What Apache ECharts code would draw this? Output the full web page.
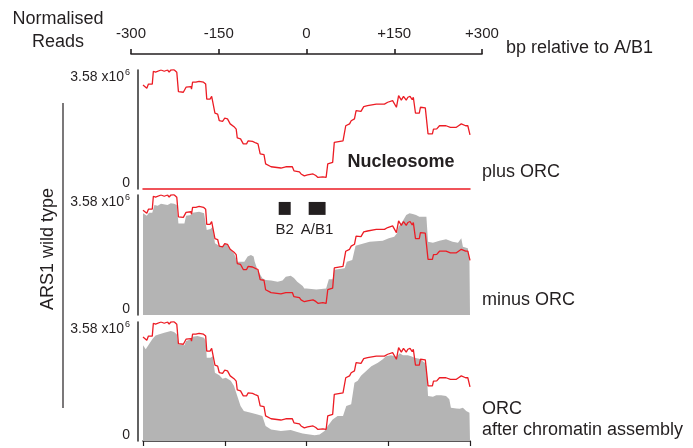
<!DOCTYPE html>
<html>
<head>
<meta charset="utf-8">
<script src="https://cdn.jsdelivr.net/npm/echarts@6/dist/echarts.min.js"></script>
<style>html,body{margin:0;padding:0;background:#fff}#c{width:693px;height:448px}</style>
</head>
<body>
<div id="c"></div>
<script>
// ---- data (bp relative to A/B1, normalised reads in millions) ----
const topTicks = [-300, -150, 0, 150, 300];
const plusOrcPos = [-300,-293,-290,-283,-281,-277,-267,-261,-255,-252,-249,-243,-238,-235,-226,-221,-212,-211,-209,-203,-197,-189,-185,-183,-177,-174,-171,-168,-163,-160,-154,-150,-145,-140,-133,-129,-127,-121,-116,-110,-107,-99,-93,-89,-85,-78,-75,-65,-47,-38,-26,-23,-13,-10,-4,2,12,17,21,30,36,39,48,51,67,72,79,82,88,91,100,105,112,128,143,149,158,165,169,174,178,183,186,190,194,196,200,207,209,218,223,231,233,239,244,256,264,275,279,284,287,292,296,300];
const plusOrcVal = [3.32,3.22,3.35,3.35,3.76,3.73,3.80,3.76,3.80,3.73,3.80,3.81,3.73,3.11,3.09,3.25,3.27,3.19,3.41,3.41,3.44,3.41,3.35,2.87,2.87,2.96,2.93,2.42,2.39,2.18,2.16,2.26,2.24,2.08,1.99,1.91,1.63,1.60,1.44,1.44,1.54,1.52,1.47,1.44,1.12,1.10,0.80,0.71,0.67,0.71,0.71,0.58,0.55,0.48,0.42,0.45,0.48,0.43,0.37,0.39,0.37,0.80,0.85,1.49,1.54,2.02,2.08,2.18,2.24,2.50,2.48,2.63,2.66,2.71,2.71,2.77,2.82,2.61,2.98,2.84,2.96,2.84,2.93,2.96,2.85,2.93,2.42,2.42,2.61,2.59,1.76,1.76,1.91,1.92,2.02,2.02,1.97,1.97,2.02,2.08,2.13,2.02,2.02,1.73];
const minusOrcPos = [-300,-293,-289,-283,-279,-273,-267,-255,-249,-243,-238,-235,-224,-221,-212,-209,-197,-188,-185,-183,-176,-172,-168,-160,-154,-150,-145,-139,-133,-127,-114,-108,-102,-97,-95,-90,-81,-75,-65,-53,-44,-38,-29,-23,-17,-7,-4,0,18,36,41,48,51,70,74,84,90,106,116,140,151,161,166,169,174,183,189,195,201,207,220,223,232,244,256,268,278,284,287,296,299,300];
const minusOrcVal = [3.22,3.14,3.24,3.24,3.48,3.46,3.52,3.48,3.54,3.52,3.48,2.90,2.90,3.14,3.17,3.24,3.27,3.22,3.17,2.69,2.72,2.80,2.27,2.19,2.16,2.27,2.22,2.06,1.95,1.69,1.69,1.85,1.90,1.85,1.69,1.43,1.16,1.11,1.09,1.05,1.09,1.21,1.24,1.17,1.05,0.92,0.84,0.84,0.81,0.84,1.13,1.13,1.43,1.48,1.69,1.74,2.19,2.27,2.32,2.35,2.43,2.48,2.59,2.80,2.90,3.17,3.22,3.20,3.17,3.11,3.11,2.32,2.29,2.35,2.40,2.32,2.29,2.43,2.16,2.11,1.74,1.74];
const afterPos = [-300,-295,-289,-283,-277,-270,-261,-249,-243,-238,-235,-224,-221,-212,-209,-200,-188,-185,-183,-176,-172,-168,-160,-154,-148,-139,-133,-127,-121,-115,-102,-90,-81,-75,-65,-47,-29,-17,-7,-1,15,24,33,39,48,57,67,73,82,88,94,100,110,119,131,140,146,155,165,171,177,186,192,198,200,207,217,220,223,232,238,247,256,262,265,275,281,287,293,299,300];
const afterVal = [3.06,2.93,3.09,3.25,3.37,3.41,3.46,3.51,3.48,3.41,3.09,3.06,3.19,3.25,3.33,3.35,3.30,3.19,2.66,2.66,2.71,2.18,2.10,1.99,2.02,1.92,1.76,1.44,1.12,0.96,0.90,0.85,0.80,0.48,0.37,0.32,0.35,0.29,0.24,0.22,0.18,0.21,0.32,0.48,0.69,0.80,0.80,1.12,1.17,1.86,1.92,2.08,2.24,2.39,2.50,2.61,2.71,2.74,2.69,2.80,2.74,2.74,2.71,2.66,2.61,2.63,2.50,2.39,1.44,1.41,1.46,1.46,1.44,1.33,1.06,1.04,1.03,1.06,0.96,0.90,0.90];
const motifNames = ['B2', 'A/B1'];
const motifStart = [-51, 4];
const motifEnd = [-29, 35];
const yTickLabel = 3.58;   // x10^6
const yMax = 3.8;

const M = 1e6;
const pairs = (p, v) => p.map((x, i) => [x, v[i] * M]);

const TXT = '#231f20';
const RED = '#ec1c24';
const GRAY = '#b4b4b4';
const FONT = 'Liberation Sans, Arial, sans-serif';

const panels = [
  {top: 70, height: 119},
  {top: 195, height: 120},
  {top: 322, height: 119}
];

const grids = [{left: 131, right: 211, top: 54, height: 10, outerBoundsMode: 'none', containLabel: false}];
panels.forEach(p => grids.push({left: 143, right: 223, top: p.top, height: p.height, outerBoundsMode: 'none', containLabel: false}));

const xAxes = [{
  gridIndex: 0, type: 'value', position: 'top', min: -300, max: 300, interval: 150,
  axisLine: {show: true, onZero: false, lineStyle: {color: '#231f20', width: 1.6}},
  axisTick: {show: true, length: 5, lineStyle: {color: '#231f20', width: 1.6}},
  axisLabel: {show: true, margin: 13, color: TXT, fontSize: 15, fontFamily: FONT,
    showMinLabel: true, showMaxLabel: true,
    formatter: v => topTicks.includes(v) ? (v > 0 ? '+' + v : String(v)) : ''},
  splitLine: {show: false}
}];
xAxes.push({gridIndex: 1, type: 'value', min: -300, max: 300, interval: 150,
  axisLine: {show: true, onZero: false, lineStyle: {color: RED, width: 1.5}},
  axisTick: {show: false}, axisLabel: {show: false}, splitLine: {show: false}});
xAxes.push({gridIndex: 2, type: 'value', min: -300, max: 300, interval: 150,
  axisLine: {show: false}, axisTick: {show: false}, axisLabel: {show: false}, splitLine: {show: false}});
xAxes.push({gridIndex: 3, type: 'value', min: -300, max: 300, interval: 150,
  axisLine: {show: true, onZero: false, lineStyle: {color: '#231f20', width: 1.5}},
  axisTick: {show: true, length: 5, lineStyle: {color: '#231f20', width: 1.2}},
  axisLabel: {show: false}, splitLine: {show: false}});

const yAxes = [{gridIndex: 0, type: 'value', show: false, min: 0, max: 1}];
[1, 2, 3].forEach(g => yAxes.push({
  gridIndex: g, type: 'value', min: 0, max: yMax * M, interval: yTickLabel * M, offset: 5,
  axisLine: {show: true, onZero: false, lineStyle: {color: '#3a3a3a', width: 1.6}},
  axisTick: {show: false}, splitLine: {show: false},
  axisLabel: {show: true, margin: 8, color: TXT, fontFamily: FONT,
    showMaxLabel: true,
    formatter: v => v === 0 ? '{z|0}' : (Math.abs(v - yTickLabel * M) < 1 ? '{a|' + yTickLabel.toFixed(2) + ' x10}{s|6}' : ''),
    rich: {a: {fontSize: 14, color: TXT, fontFamily: FONT, lineHeight: 17},
           z: {fontSize: 14, color: TXT, fontFamily: FONT, lineHeight: 17, padding: [0, 0, 12, 0]},
           s: {fontSize: 9, color: TXT, fontFamily: FONT, verticalAlign: 'top', lineHeight: 17, padding: [0, 0, 7, 1]}}}
}));

const redLine = (g) => ({
  type: 'line', xAxisIndex: g, yAxisIndex: g, data: pairs(plusOrcPos, plusOrcVal),
  symbol: 'none', lineStyle: {color: RED, width: 1.3}, z: 5, silent: true
});
const grayArea = (g, pos, val, extra) => Object.assign({
  type: 'line', xAxisIndex: g, yAxisIndex: g, data: pairs(pos, val),
  symbol: 'none', lineStyle: {width: 0, color: GRAY}, areaStyle: {color: GRAY, opacity: 1}, z: 2, silent: true
}, extra || {});

const motifArea = {
  silent: true,
  itemStyle: {color: '#231f20', opacity: 1},
  label: {show: true, position: 'bottom', distance: 7, color: TXT, fontSize: 15, fontFamily: FONT},
  data: motifNames.map((n, i) => [
    {name: n, coord: [motifStart[i], 3.58 * M]},
    {coord: [motifEnd[i], 3.17 * M]}
  ])
};

const series = [
  redLine(1),
  grayArea(2, minusOrcPos, minusOrcVal, {markArea: motifArea}),
  redLine(2),
  grayArea(3, afterPos, afterVal),
  redLine(3)
];

const tstyle = (t, extra) => Object.assign({text: t, fill: TXT, font: '18px ' + FONT}, extra || {});
const graphic = [
  {type: 'text', x: 58, y: 19, style: tstyle('Normalised', {textAlign: 'center', textVerticalAlign: 'middle'})},
  {type: 'text', x: 58, y: 42, style: tstyle('Reads', {textAlign: 'center', textVerticalAlign: 'middle'})},
  {type: 'text', x: 506, y: 48, style: tstyle('bp relative to A/B1', {textVerticalAlign: 'middle'})},
  {type: 'text', x: 401, y: 162, style: tstyle('Nucleosome', {font: 'bold 18px ' + FONT, textAlign: 'center', textVerticalAlign: 'middle'})},
  {type: 'text', x: 482, y: 172, style: tstyle('plus ORC', {textVerticalAlign: 'middle'})},
  {type: 'text', x: 482, y: 300, style: tstyle('minus ORC', {textVerticalAlign: 'middle'})},
  {type: 'text', x: 482, y: 409, style: tstyle('ORC', {textVerticalAlign: 'middle'})},
  {type: 'text', x: 482, y: 430, style: tstyle('after chromatin assembly', {textVerticalAlign: 'middle'})},
  {type: 'text', x: 48, y: 249, rotation: Math.PI / 2, style: tstyle('ARS1 wild type', {textAlign: 'center', textVerticalAlign: 'middle'})},
  {type: 'line', shape: {x1: 63, y1: 103, x2: 63, y2: 408}, style: {stroke: '#231f20', lineWidth: 1.2}}
];

const chart = echarts.init(document.getElementById('c'), null, {renderer: 'canvas'});
chart.setOption({
  backgroundColor: '#ffffff',
  animation: false,
  grid: grids, xAxis: xAxes, yAxis: yAxes, series: series, graphic: graphic
});
</script>
</body>
</html>
